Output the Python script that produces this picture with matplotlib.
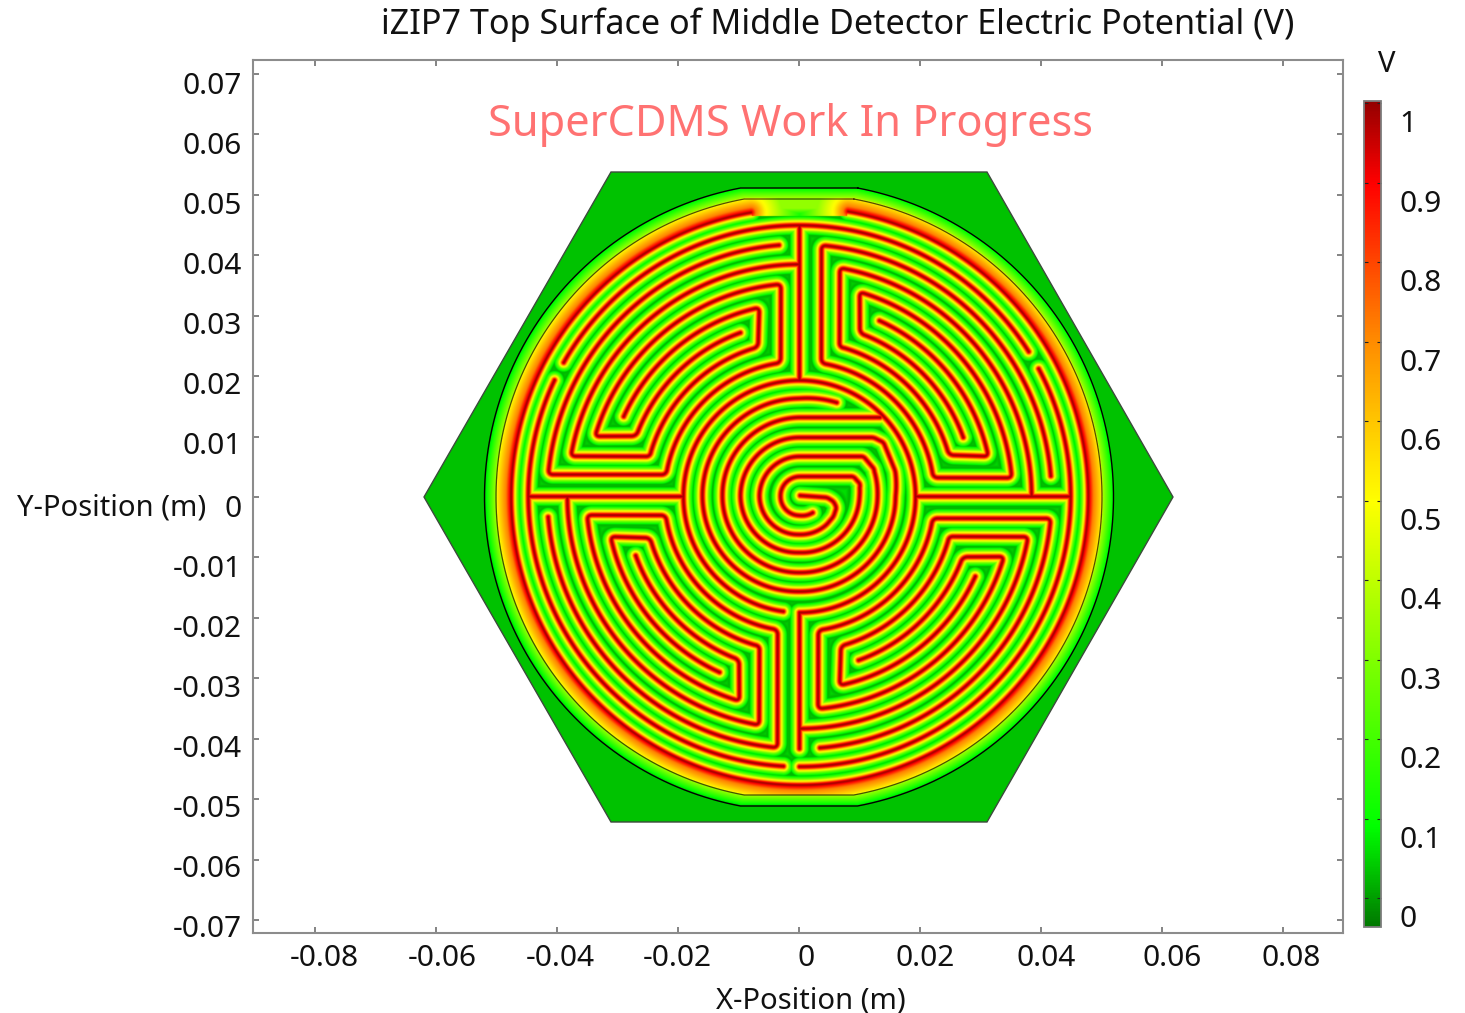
import numpy as np
import matplotlib
matplotlib.use("Agg")
import matplotlib.pyplot as plt
from matplotlib.colors import LinearSegmentedColormap, Normalize
from matplotlib.patches import Polygon
from matplotlib.transforms import ScaledTranslation
from matplotlib.cm import ScalarMappable

plt.rcParams['font.family'] = ['Noto Sans', 'DejaVu Sans']

# ---- text and ticks -------------------------------------------------------
TITLE = "iZIP7 Top Surface of Middle Detector Electric Potential (V)"
WATERMARK = "SuperCDMS Work In Progress"
X_LABEL = "X-Position (m)"
Y_LABEL = "Y-Position (m)"
X_TICKS = [-0.08, -0.06, -0.04, -0.02, 0, 0.02, 0.04, 0.06, 0.08]
X_TICK_LABELS = ["-0.08", "-0.06", "-0.04", "-0.02", "0", "0.02", "0.04", "0.06", "0.08"]
Y_TICKS = [0.07, 0.06, 0.05, 0.04, 0.03, 0.02, 0.01, 0, -0.01, -0.02, -0.03, -0.04, -0.05, -0.06, -0.07]
Y_TICK_LABELS = ["0.07", "0.06", "0.05", "0.04", "0.03", "0.02", "0.01", "0",
                 "-0.01", "-0.02", "-0.03", "-0.04", "-0.05", "-0.06", "-0.07"]
CBAR_TICKS = [0, 0.1, 0.2, 0.3, 0.4, 0.5, 0.6, 0.7, 0.8, 0.9, 1]
CBAR_LABELS = ["0", "0.1", "0.2", "0.3", "0.4", "0.5", "0.6", "0.7", "0.8", "0.9", "1"]
V_MIN, V_MAX = -0.036, 1.003

# ---- detector traces in picture pixels from the centre
M_PER_PX = 1 / 6045.0
# A tuple is a point (x, y); a list is a polar run [(deg, radius), ...]
ELECTRODE_A = [[(90, 232), (170, 232)], (-149, 40),
               [(165, 155), (105.5, 155)],
               [(102, 193), (156, 193)]]
ELECTRODE_B = [[(109.4, 174), (159.7, 174)],
               [(163.6, 213), (95, 213)],
               [(98, 135), (170.7, 135)],
               [(175, 252), (94.3, 252)]]
SPIRAL_A = [(0, 1), (27.7, -1), (34, -5), (37, -11), (34, -20),
            [(-45, 39), (-90, 38), (-180, 40), (-270, 40)], (64, 40), (75, 27),
            [(20, 79), (0, 78), (-90, 76), (-180, 77), (-270, 79)], (81, 79)]
SPIRAL_B = [[(-49, 21), (-90, 19), (-180, 19), (-270, 20)], (54, 20), (61, 12),
            [(10, 61), (0, 60), (-90, 56), (-180, 59), (-270, 59)], (74, 59), (84, 54),
            [(15, 99), (0, 96), (-90, 95), (-180, 97), (-270, 98), (-292, 101)]]
RING = [[(-90, 116), (262, 116)]]
OUTER_RING = [[(80.3, 289), (-260.3, 288)]]
FEEDS = [[(0, 116), (0, 270)], [(116, 0), (271, 0)], [(0, -116), (0, -252)], [(-116, 0), (-271, 0)]]
LONG_ARCS = [[[(90, 271), (150.4, 271)]], [[(154.6, 271), (180, 271)]],
             [[(90, 271), (32.2, 271)]], [[(28.1, 271), (0, 271)]],
             [[(180, 271), (266.6, 270)]], [[(0, 271), (-90, 270)]]]
HEXAGON = [(-375, 0), (-188, 325), (188, 325), (374, 0), (188, -325), (-188, -325)]
WALL_INNER = (303, 298)
WALL_OUTER = (314.5, 309)
# potential against distance from the nearest trace (picture pixels)
PROFILE_D = [0, 0.6, 1.2, 2, 3, 4.5, 6, 8, 9.5, 10.5, 14]
PROFILE_V = [1, 0.97, 0.93, 0.82, 0.64, 0.46, 0.28, 0.12, 0.03, 0.025, 0.06]
RIM_D = [0, 2, 5, 14, 60]
RIM_V = [1, 0.88, 0.72, 0.52, 0.0]


def build(path, smooth=10):
    pts = []
    for item in path:
        if isinstance(item, tuple):
            pts.append(np.array([item], float))
        else:
            deg = np.array([n[0] for n in item], float)
            rad = np.array([n[1] for n in item], float)
            s = np.linspace(0, 1, max(int(abs(deg[-1] - deg[0])) + 2, 3))
            k = np.linspace(0, 1, len(deg))
            a = np.radians(np.interp(s, k, deg))
            r = np.interp(s, k, rad)
            pts.append(np.column_stack([r * np.cos(a), r * np.sin(a)]))
    pts = np.vstack(pts)
    seg = np.hypot(*np.diff(pts, axis=0).T)
    keep = np.r_[True, seg > 1e-9]
    pts = pts[keep]
    t = np.r_[0, np.cumsum(np.hypot(*np.diff(pts, axis=0).T))]
    u = np.arange(0, t[-1] + 0.5, 0.5)
    x, y = np.interp(u, t, pts[:, 0]), np.interp(u, t, pts[:, 1])
    if smooth and len(u) > 2 * smooth:
        w = np.ones(smooth * 2 + 1) / (smooth * 2 + 1)
        x = np.convolve(np.r_[np.full(smooth, x[0]), x, np.full(smooth, x[-1])], w, 'valid')
        y = np.convolve(np.r_[np.full(smooth, y[0]), y, np.full(smooth, y[-1])], w, 'valid')
    return np.column_stack([x, y])[::2]


def rot(p, quarter):
    a = -quarter * np.pi / 2
    c, s = np.cos(a), np.sin(a)
    return np.column_stack([c * p[:, 0] - s * p[:, 1], s * p[:, 0] + c * p[:, 1]])


traces = []
for q in range(4):
    traces.append(rot(build(ELECTRODE_A), q))
    traces.append(rot(build(ELECTRODE_B), q))
traces += [build(SPIRAL_A, 5), build(SPIRAL_B, 5), build(RING, 0)]
traces += [build(list(f), 0) for f in FEEDS]
traces += [build(a, 0) for a in LONG_ARCS]
outer_trace = build(OUTER_RING, 0)

STEP = 0.5
xs = np.arange(-380, 380 + STEP, STEP)
ys = np.arange(-330, 330 + STEP, STEP)


def dist_field(point_sets, reach):
    D = np.full((len(ys), len(xs)), reach ** 2, float)
    n = int(reach / STEP)
    for pts in point_sets:
        for px, py in pts:
            i = int((px - xs[0]) / STEP)
            j = int((py - ys[0]) / STEP)
            i0, i1 = max(i - n, 0), min(i + n + 1, len(xs))
            j0, j1 = max(j - n, 0), min(j + n + 1, len(ys))
            dx2 = (xs[i0:i1] - px) ** 2
            dy2 = (ys[j0:j1] - py) ** 2
            sub = D[j0:j1, i0:i1]
            np.minimum(sub, dy2[:, None] + dx2, out=sub)
    return np.sqrt(D)


D_outer = dist_field([outer_trace], 60)
D_all = np.minimum(dist_field(traces, 16), D_outer)

X, Y = np.meshgrid(xs, ys)
R = np.hypot(X, Y)
V = np.interp(D_all, PROFILE_D, PROFILE_V)

# gradient outside the outermost trace, up to the inner wall
gap = (np.abs(X) < 48) & (Y > 280)
outside = (R > 289) | gap
lime = np.clip(0.03 + (np.abs(Y) - 280) / 8 * 0.3, 0.03, 0.33)
V = np.where(outside, np.maximum(np.interp(D_outer, RIM_D, RIM_V), np.where(gap, lime, 0)), V)

# band between the two walls, then the plain region of the hexagon
t_in = np.maximum((R - WALL_INNER[0]) / (WALL_OUTER[0] - WALL_INNER[0]),
                  (np.abs(Y) - WALL_INNER[1]) / (WALL_OUTER[1] - WALL_INNER[1]))
V = np.where(t_in > 0, 0.36 - 0.32 * np.clip(t_in, 0, 1), V)
t_out = np.maximum(R - WALL_OUTER[0], np.abs(Y) - WALL_OUTER[1])
V = np.where(t_out > 0, 0.035, V)

W, H = 1465, 1013
fig = plt.figure(figsize=(W / 100, H / 100), dpi=100)
L, Rt, T, B = 253, 1343, 60, 933
ax = fig.add_axes([L / W, 1 - B / H, (Rt - L) / W, (B - T) / H])
CX, CY = 799, 497

stops = [(-0.036, (0, 0.47, 0)), (0.09, (0, 1, 0)), (0.3, (0.5, 1, 0)), (0.5, (1, 1, 0)),
         (0.7, (1, 0.55, 0)), (0.9, (1, 0, 0)), (1.003, (0.58, 0, 0))]
cmap = LinearSegmentedColormap.from_list(
    "traffic", [((v - V_MIN) / (V_MAX - V_MIN), c) for v, c in stops], N=512)
norm = Normalize(V_MIN, V_MAX)

hex_m = [(x * M_PER_PX, y * M_PER_PX) for x, y in HEXAGON]
hex_patch = Polygon(hex_m, closed=True, facecolor='none', edgecolor='#3c4a3c', lw=1.0, zorder=3)
ax.add_patch(hex_patch)
im = ax.imshow(V, origin='lower', cmap=cmap, norm=norm, interpolation='bilinear', aspect='auto',
               extent=[(xs[0] - STEP / 2) * M_PER_PX, (xs[-1] + STEP / 2) * M_PER_PX,
                       (ys[0] - STEP / 2) * M_PER_PX, (ys[-1] + STEP / 2) * M_PER_PX], zorder=1)
im.set_clip_path(hex_patch)
ax.set_xlim((L - CX) * M_PER_PX, (Rt - CX) * M_PER_PX)
ax.set_ylim((CY - B) * M_PER_PX, (CY - T) * M_PER_PX)


def wall(radius, flat):
    a0 = np.degrees(np.arcsin(flat / radius))
    th = np.radians(np.r_[np.linspace(a0, 180 - a0, 2), np.linspace(180 - a0, 180 + a0, 120),
                          np.linspace(180 + a0, 360 - a0, 2), np.linspace(360 - a0, 360 + a0, 120)])
    xw = radius * np.cos(th)
    yw = np.clip(radius * np.sin(th), -flat, flat)
    return np.r_[xw, xw[0]] * M_PER_PX, np.r_[yw, yw[0]] * M_PER_PX


ax.plot(*wall(*WALL_INNER), color='#1a1a00', lw=0.9, alpha=0.75, zorder=2)
ax.plot(*wall(*WALL_OUTER), color='black', lw=1.0, zorder=2)

for s in ax.spines.values():
    s.set_color('#8c8c8c')
    s.set_linewidth(1.5)
FS = 21.5
ax.set_xticks(X_TICKS)
ax.set_xticklabels(X_TICK_LABELS)
ax.set_yticks(Y_TICKS)
ax.set_yticklabels(Y_TICK_LABELS)
ax.tick_params(axis='both', direction='in', length=4, width=1.2, color='#6e6e6e',
               top=True, right=True, labelsize=FS, labelcolor='#111111')
ax.tick_params(axis='x', pad=8)
ax.tick_params(axis='y', pad=8)

x_shift = [9, 6, 3, -1, 7, 5, 5, 10, 9]
y_shift = [9.5, 9, 8.4, 8, 7.4, 7, 6.5, 9, 8.5, 8, 7.5, 7, 6.4, 6, 5.4]
for lab, sh in zip(ax.get_xticklabels(), x_shift):
    lab.set_transform(lab.get_transform() + ScaledTranslation(sh / 100, 0, fig.dpi_scale_trans))
for lab, sh in zip(ax.get_yticklabels(), y_shift):
    lab.set_transform(lab.get_transform() + ScaledTranslation(0, -sh / 100, fig.dpi_scale_trans))

fig.text(838 / W, 1 - 25 / H, TITLE, ha='center', va='center', fontsize=24.6, color='#111111')
fig.text(790 / W, 1 - 125 / H, WATERMARK, ha='center', va='center', fontsize=31.2, color='#ff7272')
fig.text(811 / W, 1 - 1001 / H, X_LABEL, ha='center', va='center', fontsize=21, color='#111111')
fig.text(206 / W, 1 - 508 / H, Y_LABEL, ha='right', va='center', fontsize=21, color='#111111')
fig.text(1387 / W, 1 - 65 / H, "V", ha='center', va='center', fontsize=21, color='#111111')

cax = fig.add_axes([1364 / W, 1 - 927 / H, 17 / W, 826 / H])
cb = fig.colorbar(ScalarMappable(norm=norm, cmap=cmap), cax=cax)
cb.set_ticks(CBAR_TICKS)
cb.set_ticklabels(CBAR_LABELS)
cb.outline.set_edgecolor('#7d7d7d')
cb.outline.set_linewidth(1.3)
cax.tick_params(axis='y', direction='in', length=3, width=0.8, color='#222222', left=True, right=True,
                labelsize=FS, labelcolor='#111111', pad=13)
for lab in cax.get_yticklabels():
    lab.set_transform(lab.get_transform() + ScaledTranslation(0, -18 / 100, fig.dpi_scale_trans))

fig.savefig("out.png", dpi=100)
